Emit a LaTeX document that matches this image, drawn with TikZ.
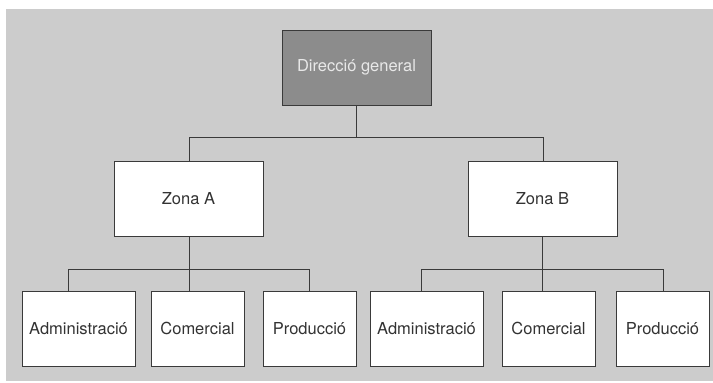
\documentclass[tikz,border=0pt]{standalone}
\usepackage{fontspec}
\setmainfont{TeX Gyre Heros}
\definecolor{bggray}{HTML}{CCCCCC}
\definecolor{topfill}{HTML}{8C8C8C}
\definecolor{edge}{HTML}{3A3A3A}
\definecolor{ink}{HTML}{333333}
\definecolor{toptext}{HTML}{E8E8E8}
\begin{document}
\begin{tikzpicture}[x=1pt,y=-1pt,
  box/.style={draw=edge,line width=1pt,fill=white,text=ink,inner sep=0pt,
    font=\fontsize{16.5}{19}\selectfont,minimum height=75pt},
  topbox/.style={box,fill=topfill,text=toptext,minimum width=149pt},
  zonebox/.style={box,minimum width=149pt},
  widebox/.style={box,minimum width=113pt},
  narrowbox/.style={box,minimum width=93pt},
  link/.style={draw=edge,line width=0.9pt}]
  % canvas
  \useasboundingbox (0,0) rectangle (713,383);
  \fill[bggray] (6,9) rectangle (713,381);

  % boxes
  \node[topbox]    (dg) at (356.5,67.5) {Direcció general};
  \node[zonebox]   (za) at (188.5,198.5) {Zona A};
  \node[zonebox]   (zb) at (542.5,198.5) {Zona B};
  \node[widebox]   (a1) at (78.5,328.5) {Administració};
  \node[narrowbox] (a2) at (197.5,328.5) {Comercial};
  \node[narrowbox] (a3) at (309.5,328.5) {Producció};
  \node[widebox]   (b1) at (426.5,328.5) {Administració};
  \node[narrowbox] (b2) at (548.5,328.5) {Comercial};
  \node[narrowbox] (b3) at (662.5,328.5) {Producció};

  % branch points
  \coordinate (t0) at (356.5,137.5);
  \coordinate (tA) at (189,137.5);
  \coordinate (tB) at (543,137.5);
  \coordinate (hA) at (189,269);
  \coordinate (hA1) at (68,269);
  \coordinate (hA3) at (309,269);
  \coordinate (hB) at (542,269);
  \coordinate (hB1) at (421,269);
  \coordinate (hB3) at (663,269);

  % top level
  \draw[link] (dg.south) -- (t0);
  \draw[link] (tA |- za.north) -- (tA) -- (tB) -- (tB |- zb.north);

  % zone A
  \draw[link] (hA |- za.south) -- (hA);
  \draw[link] (hA1 |- a1.north) -- (hA1) -- (hA3) -- (hA3 |- a3.north);
  \draw[link] (hA) -- (hA |- a2.north);

  % zone B
  \draw[link] (hB |- zb.south) -- (hB);
  \draw[link] (hB1 |- b1.north) -- (hB1) -- (hB3) -- (hB3 |- b3.north);
  \draw[link] (hB) -- (hB |- b2.north);
\end{tikzpicture}
\end{document}
